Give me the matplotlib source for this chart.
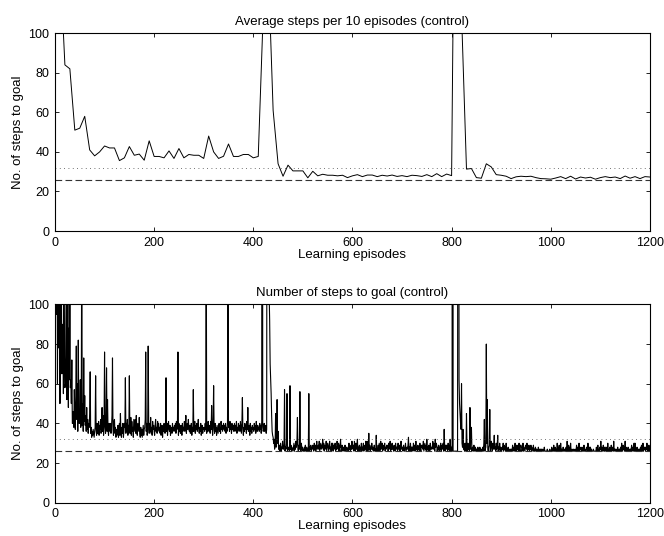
import matplotlib
matplotlib.use("Agg")
import matplotlib.pyplot as plt
import numpy as np

plt.rcParams['font.family'] = ['Liberation Sans', 'DejaVu Sans']

# average of every 10 episodes (x = 10, 20, ..., 1200)
avg_x = list(range(10, 1201, 10))
avg_steps = [
    137, 84, 82, 51, 52, 58, 41, 38, 40, 43,
    42, 42, 35.6, 37, 42.7, 38.3, 38.9, 35.8, 45.6, 37.7,
    37.7, 37, 40.5, 36.7, 41.7, 37, 38.7, 38.3, 38.3, 36.7,
    48, 40, 36.7, 37.8, 44, 37.7, 37.7, 38.7, 38.7, 37,
    37.7, 110, 135, 61, 34, 27.7, 33.3, 30.4, 30.4, 30.4,
    26.9, 30.2, 27.9, 28.7, 28.2, 28.2, 27.9, 28.2, 27, 27.9,
    28.5, 27.5, 28.3, 28.3, 27.5, 28.2, 27.8, 28.3, 27.6, 28,
    27.5, 28.2, 28, 27.6, 28.5, 27.5, 29, 27.5, 28.8, 28,
    300, 110, 31.3, 31.6, 27, 26.7, 34, 32.4, 28.5, 28.2,
    27.7, 26.5, 27.4, 27.7, 27.5, 27.7, 27, 26.5, 26.4, 26.2,
    26.8, 27.5, 26.5, 27.7, 26.3, 27.3, 26.8, 27.2, 26.2, 27,
    27.5, 27, 27.3, 26.5, 27.8, 26.7, 27.5, 26.5, 27.5, 27.3,
]

# steps per episode, episodes 1..1200
steps_0001_0100 = [
    250, 120, 95, 180, 60, 140, 100, 78, 210, 50,
    130, 72, 110, 65, 85, 90, 55, 100, 75, 58,
    60, 90, 110, 52, 70, 130, 48, 88, 62, 105,
    58, 62, 50, 72, 40, 40, 46, 38, 57, 44,
    37, 55, 79, 42, 60, 36, 82, 45, 40, 44,
    62, 38, 47, 140, 39, 50, 36, 73, 41, 54,
    39, 44, 36, 48, 37, 42, 35, 40, 38, 45,
    66, 35, 38, 33, 36, 34, 37, 35, 33, 36,
    38, 64, 36, 34, 40, 35, 37, 41, 34, 39,
    37, 42, 35, 39, 48, 36, 44, 34, 40, 76,
]
steps_0101_0200 = [
    38, 35, 41, 68, 36, 52, 37, 34, 40, 39,
    36, 40, 35, 38, 44, 73, 37, 34, 41, 42,
    35, 38, 33, 37, 34, 36, 39, 33, 35, 40,
    34, 45, 36, 33, 38, 35, 40, 33, 36, 40,
    38, 63, 35, 40, 36, 42, 34, 39, 35, 64,
    37, 35, 43, 34, 41, 36, 38, 33, 42, 39,
    36, 42, 35, 44, 37, 34, 40, 38, 36, 43,
    35, 33, 38, 34, 37, 33, 36, 39, 34, 37,
    38, 42, 76, 36, 40, 34, 37, 79, 41, 35,
    40, 36, 43, 35, 38, 34, 41, 37, 39, 36,
]
steps_0201_0300 = [
    34, 39, 42, 36, 38, 35, 41, 37, 40, 36,
    38, 35, 40, 34, 37, 39, 33, 38, 36, 40,
    37, 35, 39, 63, 36, 40, 34, 38, 41, 37,
    36, 39, 34, 38, 37, 35, 40, 36, 38, 37,
    39, 36, 40, 35, 41, 37, 38, 76, 34, 40,
    36, 38, 35, 39, 37, 34, 40, 36, 38, 37,
    41, 36, 39, 44, 35, 38, 40, 37, 42, 38,
    36, 39, 35, 37, 40, 34, 38, 36, 57, 36,
    38, 41, 35, 39, 37, 40, 36, 38, 42, 37,
    35, 38, 36, 40, 34, 37, 39, 35, 38, 37,
]
steps_0301_0400 = [
    38, 36, 40, 37, 150, 35, 39, 36, 41, 38,
    36, 39, 35, 41, 37, 49, 38, 34, 40, 59,
    37, 35, 40, 36, 38, 34, 39, 37, 35, 38,
    40, 36, 38, 35, 41, 37, 39, 36, 38, 40,
    37, 39, 36, 40, 35, 38, 36, 41, 110, 38,
    39, 36, 41, 37, 38, 35, 40, 37, 39, 36,
    38, 40, 36, 39, 37, 41, 35, 38, 36, 40,
    37, 39, 36, 41, 38, 35, 40, 53, 37, 34,
    38, 36, 40, 37, 39, 35, 41, 37, 48, 36,
    37, 39, 34, 40, 36, 38, 35, 39, 37, 38,
]
steps_0401_0500 = [
    36, 40, 37, 39, 35, 41, 38, 36, 39, 37,
    38, 36, 40, 37, 39, 35, 41, 700, 38, 36,
    37, 40, 36, 38, 39, 35, 37, 350, 520, 198,
    130, 105, 92, 70, 62, 55, 44, 36, 34, 33,
    30, 32, 27, 29, 45, 28, 31, 52, 30, 36,
    27, 29, 26, 28, 30, 26, 28, 27, 31, 28,
    27, 29, 57, 26, 28, 27, 30, 55, 26, 28,
    27, 28, 26, 59, 27, 29, 26, 28, 27, 26,
    28, 30, 26, 29, 27, 31, 28, 30, 43, 27,
    26, 29, 27, 56, 28, 26, 30, 27, 28, 26,
]
steps_0501_0600 = [
    27, 26, 28, 26, 29, 27, 26, 28, 27, 26,
    27, 55, 26, 28, 27, 29, 26, 28, 27, 29,
    28, 26, 30, 27, 29, 26, 28, 31, 27, 28,
    29, 27, 31, 26, 28, 30, 27, 29, 28, 32,
    27, 30, 26, 29, 28, 27, 31, 26, 28, 30,
    28, 26, 29, 31, 27, 28, 26, 30, 27, 30,
    26, 29, 27, 28, 30, 26, 28, 27, 31, 28,
    27, 30, 26, 29, 28, 32, 26, 27, 29, 28,
    26, 28, 27, 26, 29, 26, 27, 28, 26, 27,
    28, 26, 30, 27, 29, 26, 28, 27, 31, 28,
]
steps_0601_0700 = [
    27, 29, 26, 31, 28, 26, 30, 27, 29, 32,
    26, 28, 27, 29, 26, 28, 27, 30, 26, 28,
    27, 30, 26, 28, 29, 27, 31, 26, 28, 31,
    26, 28, 35, 27, 29, 26, 28, 27, 30, 27,
    28, 26, 27, 29, 26, 27, 26, 34, 26, 26,
    27, 29, 26, 30, 28, 26, 31, 27, 28, 30,
    26, 29, 27, 28, 30, 26, 28, 27, 29, 28,
    29, 26, 30, 27, 28, 31, 26, 29, 27, 30,
    27, 28, 26, 29, 27, 26, 30, 27, 28, 28,
    26, 30, 27, 28, 29, 26, 28, 31, 27, 28,
]
steps_0701_0800 = [
    28, 26, 29, 27, 26, 28, 30, 26, 27, 28,
    27, 29, 33, 26, 28, 27, 30, 26, 28, 28,
    28, 26, 30, 27, 29, 26, 28, 31, 27, 28,
    26, 29, 27, 28, 26, 30, 27, 26, 29, 28,
    29, 27, 31, 26, 28, 30, 27, 29, 26, 32,
    27, 28, 26, 29, 27, 26, 30, 27, 28, 27,
    28, 31, 27, 30, 29, 26, 32, 28, 30, 29,
    26, 28, 27, 29, 26, 28, 27, 30, 26, 28,
    29, 27, 30, 26, 37, 28, 26, 29, 27, 29,
    28, 26, 30, 27, 29, 26, 32, 28, 26, 28,
]
steps_0801_0900 = [
    26, 2770, 26, 26, 26, 26, 26, 26, 26, 26,
    26, 26, 350, 420, 62, 50, 45, 40, 37, 60,
    30, 28, 37, 27, 28, 26, 30, 27, 26, 45,
    28, 26, 30, 27, 29, 26, 48, 27, 37, 38,
    26, 28, 27, 26, 29, 26, 27, 28, 26, 27,
    27, 26, 28, 26, 27, 26, 28, 26, 27, 26,
    27, 26, 28, 26, 30, 42, 26, 27, 28, 80,
    30, 52, 27, 26, 28, 29, 47, 26, 28, 31,
    28, 26, 30, 27, 29, 34, 27, 28, 26, 30,
    27, 29, 34, 26, 28, 27, 30, 26, 28, 27,
]
steps_0901_1000 = [
    26, 28, 27, 30, 26, 29, 27, 28, 26, 30,
    26, 27, 26, 28, 26, 26, 27, 26, 27, 26,
    27, 26, 29, 26, 28, 27, 26, 30, 26, 29,
    26, 29, 27, 28, 26, 30, 27, 26, 29, 29,
    28, 26, 27, 30, 26, 28, 27, 26, 29, 28,
    27, 30, 26, 28, 27, 29, 26, 28, 27, 29,
    26, 28, 27, 26, 29, 26, 27, 26, 28, 27,
    26, 27, 26, 26, 28, 26, 26, 27, 26, 27,
    27, 26, 26, 27, 26, 26, 28, 26, 26, 26,
    26, 26, 27, 26, 26, 26, 26, 27, 26, 26,
]
steps_1001_1100 = [
    26, 28, 26, 27, 26, 29, 26, 26, 28, 26,
    27, 26, 30, 26, 28, 26, 29, 27, 26, 30,
    26, 27, 26, 26, 28, 26, 27, 26, 27, 26,
    28, 26, 31, 27, 26, 29, 26, 28, 26, 30,
    26, 26, 27, 26, 26, 27, 26, 26, 27, 26,
    26, 29, 26, 28, 27, 26, 30, 26, 28, 27,
    27, 26, 28, 26, 27, 26, 29, 26, 27, 26,
    26, 28, 27, 26, 30, 26, 27, 28, 26, 28,
    26, 27, 26, 26, 26, 27, 26, 26, 26, 26,
    26, 28, 26, 27, 29, 26, 27, 26, 28, 27,
]
steps_1101_1200 = [
    31, 26, 28, 26, 27, 29, 26, 28, 26, 28,
    27, 26, 28, 26, 30, 26, 27, 26, 28, 26,
    26, 29, 26, 28, 27, 26, 31, 26, 27, 27,
    26, 27, 26, 26, 28, 26, 26, 27, 27, 26,
    28, 26, 30, 27, 26, 29, 27, 28, 26, 31,
    26, 28, 26, 27, 26, 28, 26, 27, 26, 27,
    27, 26, 29, 26, 28, 27, 26, 30, 26, 30,
    26, 27, 26, 28, 26, 26, 27, 26, 27, 26,
    28, 26, 29, 27, 26, 30, 26, 28, 27, 28,
    26, 28, 27, 30, 26, 28, 26, 29, 26, 27,
]

steps = (steps_0001_0100 + steps_0101_0200 + steps_0201_0300 + steps_0301_0400
         + steps_0401_0500 + steps_0501_0600 + steps_0601_0700 + steps_0701_0800
         + steps_0801_0900 + steps_0901_1000 + steps_1001_1100 + steps_1101_1200)
episodes = np.arange(1, len(steps) + 1)

optimal = 26      # dashed reference
threshold = 32    # dotted reference

fig = plt.figure(figsize=(6.64, 5.36), dpi=100)
ax1 = fig.add_axes([0.0828, 0.569, 0.896, 0.369])
ax2 = fig.add_axes([0.0828, 0.0621, 0.896, 0.370])


def style(ax, title):
    ax.axhline(threshold, color='#444444', lw=0.6, ls=(0, (1, 4.2)))
    ax.axhline(optimal, color='#333333', lw=0.8, ls=(0, (6, 3)))
    ax.set_xlim(0, 1200)
    ax.set_ylim(0, 100)
    ax.set_xticks(range(0, 1201, 200))
    ax.set_yticks(range(0, 101, 20))
    ax.tick_params(direction='in', length=3, width=0.6, top=True, right=True,
                   labelsize=9, pad=4)
    for s in ax.spines.values():
        s.set_linewidth(0.8)
    ax.set_title(title, fontsize=9.5, pad=6)
    ax.set_xlabel('Learning episodes', fontsize=9.5, labelpad=0)
    ax.set_ylabel('No. of steps to goal', fontsize=9.5, labelpad=3)


ax1.plot(avg_x, avg_steps, color='black', lw=0.7)
style(ax1, 'Average steps per 10 episodes (control)')

ax2.plot(episodes, steps, color='black', lw=0.8)
style(ax2, 'Number of steps to goal (control)')

fig.savefig('out.png', dpi=100)
